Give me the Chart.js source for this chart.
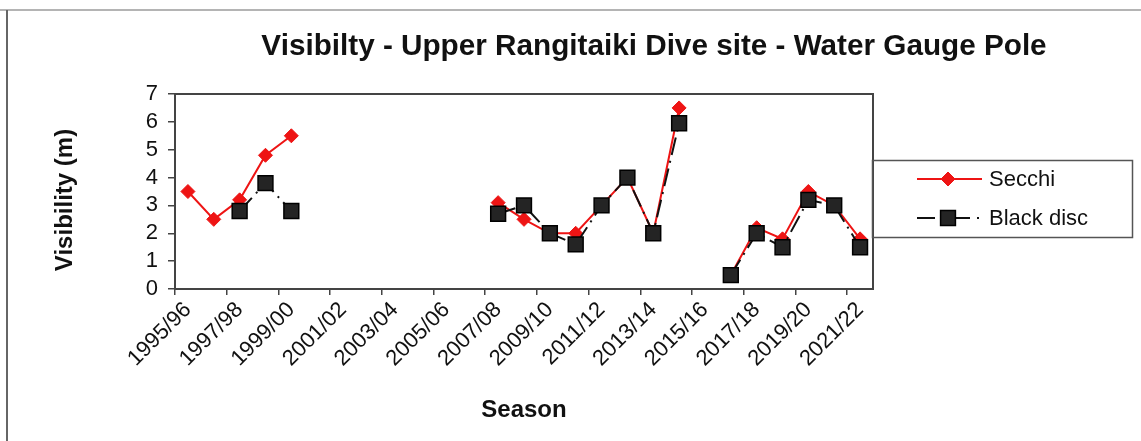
<!DOCTYPE html>
<html>
<head>
<meta charset="utf-8">
<title>Visibilty - Upper Rangitaiki Dive site - Water Gauge Pole</title>
<script src="https://cdn.jsdelivr.net/npm/chart.js@4/dist/chart.umd.min.js"></script>
<style>
  html, body { margin: 0; padding: 0; background: #ffffff; }
  #wrap { position: relative; width: 1141px; height: 441px; }
  canvas { display: block; }
</style>
</head>
<body>
<div id="wrap"><canvas id="chart" width="1141" height="441"></canvas></div>
<script>
// Seasons on the category axis
const seasons = [
  '1995/96', '1996/97', '1997/98', '1998/99', '1999/00', '2000/01', '2001/02',
  '2002/03', '2003/04', '2004/05', '2005/06', '2006/07', '2007/08', '2008/09',
  '2009/10', '2010/11', '2011/12', '2012/13', '2013/14', '2014/15', '2015/16',
  '2016/17', '2017/18', '2018/19', '2019/20', '2020/21', '2021/22'
];

// Visibility readings (m); null = no survey that season
const secchi = [
  3.5, 2.5, 3.2, 4.8, 5.5, null, null,
  null, null, null, null, null, 3.1, 2.5,
  2.0, 2.0, 3.0, 4.0, 2.0, 6.5, null,
  0.5, 2.2, 1.8, 3.5, 3.0, 1.8
];
const blackDisc = [
  null, null, 2.8, 3.8, 2.8, null, null,
  null, null, null, null, null, 2.7, 3.0,
  2.0, 1.6, 3.0, 4.0, 2.0, 5.95, null,
  0.5, 2.0, 1.5, 3.2, 3.0, 1.5
];

const yTicks = [0, 1, 2, 3, 4, 5, 6, 7];

const chartTitle = 'Visibilty - Upper Rangitaiki Dive site - Water Gauge Pole';
const yTitle = 'Visibility (m)';
const xTitle = 'Season';

const FONT = "'Liberation Sans', Arial, Helvetica, sans-serif";
const INK = '#111111';
const AXIS = '#444444';
const RED = '#ee1414';

// Page frame, plot box, heading, vertical axis title and the boxed legend
const decorations = {
  id: 'decorations',
  beforeDraw(chart) {
    const ctx = chart.ctx;
    ctx.save();
    ctx.fillStyle = '#ffffff';
    ctx.fillRect(0, 0, chart.width, chart.height);
    ctx.strokeStyle = '#b4b4b4';
    ctx.lineWidth = 2;
    ctx.beginPath();
    ctx.moveTo(0, 10);
    ctx.lineTo(chart.width, 10);
    ctx.stroke();
    ctx.strokeStyle = '#666666';
    ctx.beginPath();
    ctx.moveTo(7, 10);
    ctx.lineTo(7, chart.height);
    ctx.stroke();
    ctx.restore();
  },
  afterDraw(chart) {
    const ctx = chart.ctx;
    const a = chart.chartArea;
    ctx.save();
    // plot box
    ctx.strokeStyle = AXIS;
    ctx.lineWidth = 2;
    ctx.strokeRect(a.left, a.top, a.right - a.left, a.bottom - a.top);

    // heading
    ctx.fillStyle = INK;
    ctx.font = 'bold 29.7px ' + FONT;
    ctx.textAlign = 'center';
    ctx.textBaseline = 'alphabetic';
    ctx.fillText(chartTitle, 654, 55);

    // vertical axis title
    ctx.save();
    ctx.translate(65, 200);
    ctx.rotate(-Math.PI / 2);
    ctx.font = 'bold 24px ' + FONT;
    ctx.textAlign = 'center';
    ctx.textBaseline = 'middle';
    ctx.fillText(yTitle, 0, 0);
    ctx.restore();

    // legend box
    ctx.strokeStyle = '#555555';
    ctx.lineWidth = 1.5;
    ctx.strokeRect(872.5, 160.5, 260, 77);
    chart.data.datasets.forEach((ds, i) => {
      const y = 179 + i * 39;
      ctx.strokeStyle = ds.borderColor;
      ctx.lineWidth = ds.borderWidth;
      ctx.setLineDash(ds.borderDash ? [18, 20, 15, 7, 2, 40] : []);
      ctx.beginPath();
      ctx.moveTo(917, y);
      ctx.lineTo(982, y);
      ctx.stroke();
      ctx.setLineDash([]);
      ctx.fillStyle = ds.pointBackgroundColor;
      ctx.strokeStyle = ds.pointBorderColor;
      ctx.lineWidth = ds.pointBorderWidth;
      const r = ds.pointRadius;
      ctx.beginPath();
      if (ds.pointStyle === 'rectRot') {
        ctx.moveTo(948, y - r);
        ctx.lineTo(948 + r, y);
        ctx.lineTo(948, y + r);
        ctx.lineTo(948 - r, y);
        ctx.closePath();
      } else {
        const h = r * Math.SQRT1_2;
        ctx.rect(948 - h, y - h, 2 * h, 2 * h);
      }
      ctx.fill();
      ctx.stroke();
      ctx.fillStyle = INK;
      ctx.font = '22px ' + FONT;
      ctx.textAlign = 'left';
      ctx.textBaseline = 'middle';
      ctx.fillText(ds.label, 989, y + 1);
    });
    ctx.restore();
  }
};

new Chart(document.getElementById('chart'), {
  type: 'line',
  data: {
    labels: seasons,
    datasets: [
      {
        label: 'Secchi',
        data: secchi,
        borderColor: RED,
        backgroundColor: RED,
        borderWidth: 2,
        pointStyle: 'rectRot',
        pointRadius: 7,
        pointHoverRadius: 7,
        pointBackgroundColor: RED,
        pointBorderColor: RED,
        pointBorderWidth: 1,
        tension: 0,
        spanGaps: false,
        order: 1
      },
      {
        label: 'Black disc',
        data: blackDisc,
        borderColor: '#111111',
        backgroundColor: '#222222',
        borderWidth: 2,
        borderDash: [18, 6, 2, 6],
        pointStyle: 'rect',
        pointRadius: 10.5,
        pointHoverRadius: 10.5,
        pointBackgroundColor: '#242424',
        pointBorderColor: '#000000',
        pointBorderWidth: 1.5,
        tension: 0,
        spanGaps: false,
        order: 0
      }
    ]
  },
  options: {
    responsive: false,
    animation: false,
    devicePixelRatio: 1,
    layout: { padding: { top: 94, right: 268, bottom: 0, left: 0 } },
    plugins: {
      legend: { display: false },
      title: { display: false },
      tooltip: { enabled: false }
    },
    scales: {
      x: {
        type: 'category',
        offset: true,
        grid: {
          offset: true,
          drawOnChartArea: false,
          drawTicks: true,
          tickLength: 6,
          lineWidth: 1.5,
          color: (c) => (c.index !== undefined && c.index % 2 === 0) ? AXIS : 'rgba(0,0,0,0)'
        },
        border: { display: true, color: AXIS, width: 2 },
        ticks: {
          autoSkip: false,
          minRotation: 45,
          maxRotation: 45,
          padding: 2,
          color: INK,
          font: { family: FONT, size: 22 },
          callback: (v, i) => (i % 2 === 0 ? seasons[i] : '')
        },
        title: {
          display: true,
          text: xTitle,
          color: INK,
          font: { family: FONT, size: 24, weight: 'bold' },
          padding: { top: 0, bottom: 16 }
        },
        afterFit(scale) { scale.height = 152; }
      },
      y: {
        min: yTicks[0],
        max: yTicks[yTicks.length - 1],
        grid: {
          drawOnChartArea: false,
          drawTicks: true,
          tickLength: 7,
          lineWidth: 1.5,
          color: AXIS
        },
        border: { display: true, color: AXIS, width: 2 },
        ticks: {
          autoSkip: false,
          stepSize: 1,
          padding: 10,
          color: INK,
          font: { family: FONT, size: 22 },
          callback: (v) => (yTicks.includes(v) ? String(v) : '')
        },
        afterFit(scale) { scale.width = 175; }
      }
    }
  },
  plugins: [decorations]
});
</script>
</body>
</html>
